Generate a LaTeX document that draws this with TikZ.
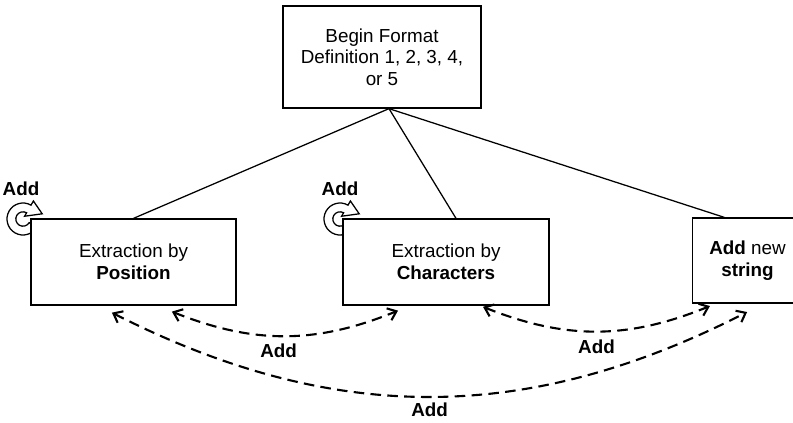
\documentclass[tikz,border=0pt]{standalone}
\usepackage{fontspec}
\setmainfont{Liberation Sans}
\tikzstyle{every node}+=[font=\fontsize{13.4}{15.4}\selectfont]
\usetikzlibrary{arrows.meta,positioning,calc}
\tikzstyle{box}=[draw,fill=white,line width=0.9pt,align=center,inner sep=0.5mm]
\tikzstyle{link}=[line width=0.9pt]
\tikzstyle{addarrow}=[dash pattern=on 7.5pt off 4.5pt,line width=1.5pt,
	{Straight Barb[length=0.2cm,width=0.32cm]}-{Straight Barb[length=0.2cm,width=0.32cm]}]
% round arrow icon around a box corner
\newcommand{\addloop}[1]{
	\filldraw[fill=white,line width=0.9pt,shift={(#1)}]
		(-30:0.4) arc[start angle=-30,end angle=-300,radius=0.4]
		-- (60:0.52) -- (0.48,0.13) -- (60:0.08) -- (60:0.18)
		arc[start angle=60,end angle=330,radius=0.18] -- cycle;
}

\begin{document}
\begin{tikzpicture}

\useasboundingbox (0,0) rectangle (19.825,10.55);
\clip (0,0) rectangle (19.825,10.55);

\coordinate (lpA) at (0.575,5.075);
\coordinate (lpB) at (8.5,5.075);
\addloop{lpA}
\addloop{lpB}
\node (addA) at (0.525,5.825) {\textbf{Add}};
\node (addB) at (8.5,5.825) {\textbf{Add}};

\node[box,minimum width=4.95cm,minimum height=2.55cm] (top) at (9.55,9.125)
	{Begin Format\\Definition 1, 2, 3, 4,\\or 5};
\node[box,minimum width=5.125cm,minimum height=2.15cm] (pos) at (3.3375,4.0)
	{Extraction by\\\textbf{Position}};
\node[box,minimum width=5.15cm,minimum height=2.15cm] (chr) at (11.15,4.0)
	{Extraction by\\\textbf{Characters}};
\node[box,minimum width=2.75cm,minimum height=2.125cm] (str) at (18.6875,4.0375)
	{\textbf{Add} new\\\textbf{string}};

\foreach \t/\s in {pos/0,chr/0.25,str/-0.58}{
	\draw[link] ([xshift=0.175cm]top.south) -- ([xshift=\s cm]\t.north);
}

\draw[addarrow] ([shift={(0.96,-0.15)}]pos.south) to[bend right=22]
	node[pos=0.47,below=0.6mm] (addC) {\textbf{Add}} ([shift={(-1.2,-0.125)}]chr.south);
\draw[addarrow] ([shift={(0.925,-0.03)}]chr.south) to[bend right=22]
	node[midway,below=0.8mm] (addD) {\textbf{Add}} ([shift={(-0.94,-0.06)}]str.south);
\draw[addarrow] ([shift={(-0.54,-0.175)}]pos.south) to[bend right=27]
	node[midway,below=0mm] (addE) {\textbf{Add}} ([shift={(-0.01,-0.21)}]str.south);

\end{tikzpicture}
\end{document}
